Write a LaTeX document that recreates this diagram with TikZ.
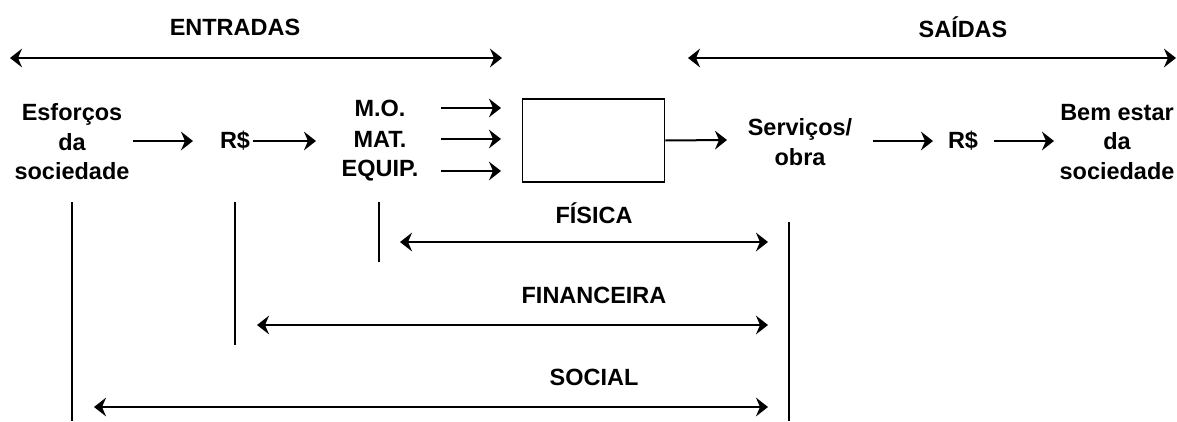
\documentclass[tikz,border=0pt]{standalone}
\usepackage{fontspec}
\setmainfont{Liberation Sans}
\usetikzlibrary{arrows.meta}
\tikzset{
  lbl/.style={font=\bfseries\fontsize{17.6}{22.2}\selectfont, align=center, inner sep=0pt},
  arr/.style={line width=1.5pt, arrows={-Stealth[length=9pt,width=14pt,inset=3pt]}},
  darr/.style={line width=1.5pt, arrows={Stealth[length=9pt,width=14pt,inset=3pt]-Stealth[length=9pt,width=14pt,inset=3pt]}},
  vline/.style={line width=1.3pt},
  boxst/.style={draw, line width=1.3pt, minimum width=106.5pt, minimum height=62pt, inner sep=0pt}
}
\begin{document}
\begin{tikzpicture}[x=0.75pt,y=-0.75pt]
\useasboundingbox (0,0) rectangle (1177,421);
% headers
\node[lbl] (entradas) at (235,27) {ENTRADAS};
\node[lbl] (saidas) at (963,27) {SAÍDAS};
\coordinate (e1) at (10,58); \coordinate (e2) at (502,58);
\draw[darr] (e1) -- (e2);
\coordinate (s1) at (688,58); \coordinate (s2) at (1176,58);
\draw[darr] (s1) -- (s2);
% main row
\node[lbl] (esf) at (72,142) {Esforços\\da\\sociedade};
\node[lbl] (rs1) at (235,141) {R\$};
\node[lbl] (mo) at (380,108) {M.O.};
\node[lbl] (mat) at (380,139) {MAT.};
\node[lbl] (equip) at (380,171) {EQUIP.};
\node[boxst] (box) at (593.5,140.5) {};
\node[lbl] (serv) at (800,142) {Serviços/\\obra};
\node[lbl] (rs2) at (963,141) {R\$};
\node[lbl] (bem) at (1117,142) {Bem estar\\da\\sociedade};
\coordinate (a1s) at (133,141); \coordinate (a1e) at (193,141);
\draw[arr] (a1s) -- (a1e);
\draw[arr] (rs1.east) ++(2pt,0) coordinate (a2s) -- (316,141) coordinate (a2e);
\coordinate (m1s) at (441,108); \coordinate (m1e) at (501,108);
\coordinate (m2s) at (441,139); \coordinate (m2e) at (501,139);
\coordinate (m3s) at (441,171); \coordinate (m3e) at (501,171);
\draw[arr] (m1s) -- (m1e);
\draw[arr] (m2s) -- (m2e);
\draw[arr] (m3s) -- (m3e);
\coordinate (b1e) at (727,140);
\draw[arr] (box.east) -- (b1e);
\coordinate (c1s) at (873,141); \coordinate (c1e) at (933,141);
\draw[arr] (c1s) -- (c1e);
\coordinate (c2s) at (994,141); \coordinate (c2e) at (1054,141);
\draw[arr] (c2s) -- (c2e);
% vertical lines
\coordinate (v1a) at (72,202); \coordinate (v1b) at (72,421);
\coordinate (v2a) at (235,202); \coordinate (v2b) at (235,345);
\coordinate (v3a) at (379,202); \coordinate (v3b) at (379,262);
\coordinate (v4a) at (789,222); \coordinate (v4b) at (789,421);
\draw[vline] (v1a) -- (v1b);
\draw[vline] (v2a) -- (v2b);
\draw[vline] (v3a) -- (v3b);
\draw[vline] (v4a) -- (v4b);
% bottom
\node[lbl] (fisica) at (594,213) {FÍSICA};
\node[lbl] (fin) at (594,295) {FINANCEIRA};
\node[lbl] (social) at (594,377) {SOCIAL};
\coordinate (f1) at (400,242); \coordinate (f2) at (768,242);
\draw[darr] (f1) -- (f2);
\coordinate (g1) at (257,325); \coordinate (g2) at (768,325);
\draw[darr] (g1) -- (g2);
\coordinate (h1) at (94,407); \coordinate (h2) at (768,407);
\draw[darr] (h1) -- (h2);
\end{tikzpicture}
\end{document}
